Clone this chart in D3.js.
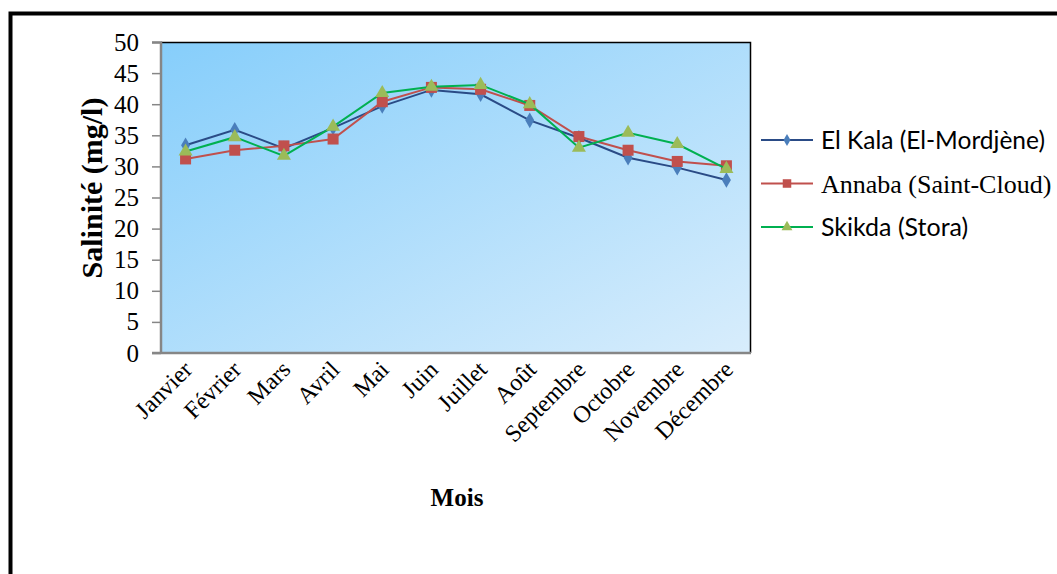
<!DOCTYPE html>
<html>
<head>
<meta charset="utf-8">
<script src="https://cdn.jsdelivr.net/npm/d3@7"></script>
<style>
  body { margin: 0; background: #fff; }
  svg { display: block; }
</style>
</head>
<body>
<svg id="chart" width="1057" height="574"></svg>
<script>
// data
const months = ['Janvier', 'Février', 'Mars', 'Avril', 'Mai', 'Juin',
  'Juillet', 'Août', 'Septembre', 'Octobre', 'Novembre', 'Décembre'];

const elKala = [33.4, 35.9, 32.9, 36.2, 39.7, 42.3, 41.6, 37.4, 34.6, 31.4, 29.8, 27.8];
const annaba = [31.2, 32.6, 33.3, 34.4, 40.4, 42.7, 42.4, 39.8, 34.8, 32.6, 30.8, 30.1];
const skikda = [32.4, 34.7, 31.7, 36.4, 41.8, 42.8, 43.1, 40.0, 33.0, 35.4, 33.6, 29.6];

const yTicks = [0, 5, 10, 15, 20, 25, 30, 35, 40, 45, 50];

const seriesNames = ['El Kala (El-Mordjène)', 'Annaba (Saint-Cloud)', 'Skikda (Stora)'];

const serif = '"Liberation Serif", "Times New Roman", serif';
const sans = 'Lato, "Open Sans", sans-serif';

const series = [
  { name: seriesNames[0], values: elKala, line: '#2a4b86', fill: '#4a7ebb', shape: 'diamond', font: sans, size: 24.5 },
  { name: seriesNames[1], values: annaba, line: '#c0504d', fill: '#c0504d', shape: 'square', font: serif, size: 26 },
  { name: seriesNames[2], values: skikda, line: '#00b050', fill: '#9bbb59', shape: 'triangle', font: sans, size: 25 }
];

const svg = d3.select('#chart');

const margin = { top: 42, left: 161, right: 306, bottom: 221 };
const width = 1057 - margin.left - margin.right;
const height = 574 - margin.top - margin.bottom;

// outer frame (only top and left edges show in the picture)
svg.append('rect')
    .attr('x', 10.5)
    .attr('y', 13.5)
    .attr('width', 1100)
    .attr('height', 700)
    .attr('fill', 'none')
    .attr('stroke', '#000')
    .attr('stroke-width', 4);

const defs = svg.append('defs');
const grad = defs.append('linearGradient')
    .attr('id', 'bg')
    .attr('x1', '0%').attr('y1', '0%')
    .attr('x2', '100%').attr('y2', '100%');
grad.append('stop').attr('offset', '0%').attr('stop-color', '#86cefb');
grad.append('stop').attr('offset', '100%').attr('stop-color', '#d8edfc');

const g = svg.append('g')
    .attr('transform', `translate(${margin.left},${margin.top})`);

const x = d3.scaleBand()
    .domain(months)
    .range([0, width]);

const y = d3.scaleLinear()
    .domain([0, 50])
    .range([height, 0]);

g.append('rect')
    .attr('width', width)
    .attr('height', height)
    .attr('fill', 'url(#bg)');

// black top/right border of the plot area
g.append('path')
    .attr('d', `M0,0.5H${width - 0.5}V${height}`)
    .attr('fill', 'none')
    .attr('stroke', '#000')
    .attr('stroke-width', 1.5);

// axes
const yAxis = d3.axisLeft(y)
    .tickValues(yTicks)
    .tickSize(9)
    .tickPadding(13);

const xAxis = d3.axisBottom(x)
    .tickSize(0)
    .tickPadding(0);

g.append('g')
    .attr('class', 'y axis')
    .call(yAxis)
    .call(a => a.select('.domain').attr('stroke', '#868686').attr('stroke-width', 2.5).attr('d', `M-9,0.5H0V${height}`))
    .call(a => a.selectAll('.tick line').attr('stroke', '#868686').attr('stroke-width', 1.5))
    .call(a => a.selectAll('.tick text')
        .attr('font-family', serif)
        .attr('font-size', 25)
        .attr('fill', '#000'));

g.append('g')
    .attr('class', 'x axis')
    .attr('transform', `translate(0,${height})`)
    .call(xAxis)
    .call(a => a.select('.domain').attr('stroke', '#868686').attr('stroke-width', 2.5).attr('d', `M-9,0H${width}`))
    .call(a => a.selectAll('.tick text')
        .attr('font-family', serif)
        .attr('font-size', 24)
        .attr('fill', '#000')
        .attr('text-anchor', 'end')
        .attr('dy', 0)
        .attr('transform', 'translate(8,18) rotate(-45)'));

// axis titles
svg.append('text')
    .attr('transform', 'translate(102,188) rotate(-90)')
    .attr('text-anchor', 'middle')
    .attr('font-family', serif)
    .attr('font-weight', 'bold')
    .attr('font-size', 30)
    .text('Salinité (mg/l)');

svg.append('text')
    .attr('x', 457)
    .attr('y', 506)
    .attr('text-anchor', 'middle')
    .attr('font-family', serif)
    .attr('font-weight', 'bold')
    .attr('font-size', 25)
    .text('Mois');

// markers
function marker(sel, shape, fill, k) {
  if (shape === 'diamond') {
    sel.append('path').attr('d', d3.symbol(d3.symbolDiamond, 70 * k)()).attr('fill', fill);
  } else if (shape === 'square') {
    const s = 11 * Math.sqrt(k);
    sel.append('rect').attr('x', -s / 2).attr('y', -s / 2).attr('width', s).attr('height', s).attr('fill', fill);
  } else {
    sel.append('path').attr('d', d3.symbol(d3.symbolTriangle, 85 * k)()).attr('fill', fill);
  }
}

const line = d3.line()
    .x((d, i) => x(months[i]) + x.bandwidth() / 2)
    .y(d => y(d));

series.forEach(s => {
  const sg = g.append('g').attr('class', 'series');
  sg.append('path')
      .datum(s.values)
      .attr('fill', 'none')
      .attr('stroke', s.line)
      .attr('stroke-width', 2)
      .attr('d', line);
  sg.selectAll('.pt')
    .data(s.values)
    .join('g')
      .attr('class', 'pt')
      .attr('transform', (d, i) => `translate(${x(months[i]) + x.bandwidth() / 2},${y(d)})`)
      .each(function() { marker(d3.select(this), s.shape, s.fill, 1); });
});

// legend
const legend = svg.append('g')
    .attr('transform', 'translate(761,140)');

const rows = legend.selectAll('.row')
  .data(series)
  .join('g')
    .attr('class', 'row')
    .attr('transform', (d, i) => `translate(0,${i * 43.5})`);

rows.append('line')
    .attr('x1', 0).attr('x2', 52)
    .attr('stroke', d => d.line)
    .attr('stroke-width', 2);

rows.each(function(d) {
  const m = d3.select(this).append('g').attr('transform', 'translate(26,0)');
  marker(m, d.shape, d.fill, 0.6);
});

rows.append('text')
    .attr('x', 60)
    .attr('dy', '0.35em')
    .attr('font-family', d => d.font)
    .attr('font-size', d => d.size)
    .attr('fill', '#000')
    .text(d => d.name);
</script>
</body>
</html>
